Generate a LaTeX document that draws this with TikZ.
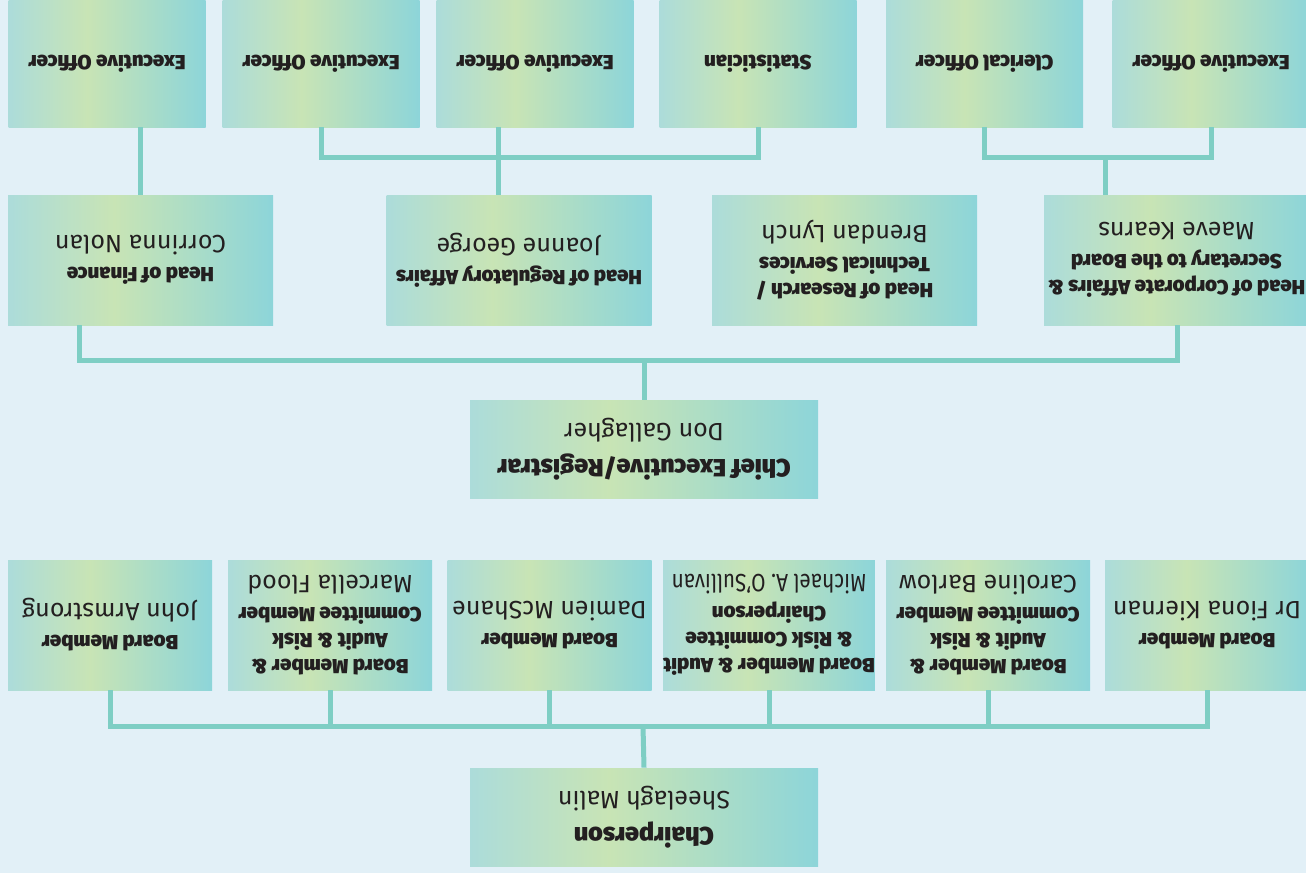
\documentclass[tikz,border=0pt]{standalone}
\usepackage{fontspec}
\usepackage{tikz}
\usetikzlibrary{calc}
\newfontfamily\rolefont{Fira Sans Black}
\newfontfamily\namefont{Fira Sans}
\definecolor{bgblue}{HTML}{E2F0F7}
\definecolor{linkteal}{HTML}{7ECEC4}
\definecolor{shadeA}{HTML}{ACDCDA}
\definecolor{shadeB}{HTML}{C8E4B5}
\definecolor{shadeC}{HTML}{8DD5D9}
\definecolor{inkdark}{HTML}{231F20}
\pgfdeclarehorizontalshading{orgshade}{100bp}{color(0bp)=(shadeA); color(25bp)=(shadeA); color(45bp)=(shadeB); color(75bp)=(shadeC); color(100bp)=(shadeC)}
\newcommand{\who}[1]{\\[3pt]{\namefont\fontsize{12.5}{15}\selectfont #1}}
\tikzset{
  orgbox/.style={rotate=180, shading=orgshade, inner sep=0pt, align=center,
    text=inkdark, font=\rolefont\fontsize{10.2}{13}\selectfont},
  topbox/.style={orgbox, minimum width=98.5pt, minimum height=63.5pt},
  headbox/.style={orgbox, minimum width=132.5pt, minimum height=65pt},
  boardbox/.style={orgbox, minimum width=102pt, minimum height=65pt},
  chiefbox/.style={orgbox, minimum width=174pt, minimum height=49pt,
    font=\rolefont\fontsize{12.5}{15}\selectfont},
  link/.style={draw=linkteal, line width=2.5pt}
}
\begin{document}
\begin{tikzpicture}[x=0.5pt,y=-0.5pt]
  \useasboundingbox (0,0) rectangle (1306,873);
  \fill[bgblue] (0,0) rectangle (1306,873);
  \node[topbox] (eoA) at (107,63.5) {Executive Officer};
  \node[topbox] (eoB) at (321,63.5) {Executive Officer};
  \node[topbox] (eoC) at (535,63.5) {Executive Officer};
  \node[topbox] (stat) at (758,63.5) {Statistician};
  \node[topbox] (cler) at (984.5,63.5) {Clerical Officer};
  \node[topbox] (eoD) at (1211,63.5) {Executive Officer};

  \node[headbox] (fin) at (140.5,260) {Head of Finance\who{Corrinna Nolan}};
  \node[headbox] (regaff) at (519,260) {Head of Regulatory Affairs\who{Joanne George}};
  \node[headbox] (research) at (844.5,260)
    {Head of Research /\\Technical Services\who{Brendan Lynch}};
  \node[headbox] (corp) at (1176.5,260)
    {Head of Corporate Affairs \&\\Secretary to the Board\who{Maeve Kearns}};

  \node[chiefbox] (ceo) at (644,449) {Chief Executive/Registrar\who{Don Gallagher}};

  \node[boardbox] (bmA) at (110,625) {Board Member\who{John Armstrong}};
  \node[boardbox] (bmB) at (330,625)
    {Board Member \&\\Audit \& Risk\\Committee Member\who{Marcella Flood}};
  \node[boardbox] (bmC) at (549.5,625) {Board Member\who{Damien McShane}};
  \node[boardbox] (bmD) at (769,625)
    {Board Member \& Audit\\\& Risk Committee\\Chairperson\who{\scalebox{0.83}[1]{Michael A. O’Sullivan}}};
  \node[boardbox] (bmE) at (988,625)
    {Board Member \&\\Audit \& Risk\\Committee Member\who{Caroline Barlow}};
  \node[boardbox] (bmF) at (1207,625) {Board Member\who{Dr Fiona Kiernan}};

  \node[chiefbox] (chair) at (644,817) {Chairperson\who{Sheelagh Malin}};

  \draw[link] (fin.south) -- (fin.south |- eoA.north);
  \draw[link] (eoB.north) -- ++(0,30) -| (stat.north);
  \draw[link] (eoC.north -| 498,0) -- (regaff.south -| 498,0);
  \draw[link] (cler.north) -- ++(0,30) -| (eoD.north);
  \draw[link] (corp.south -| 1105,0) -- ++(0,-38);
  \draw[link] (fin.north -| 79,0) -- ++(0,35) -| (corp.north -| 1177,0);
  \draw[link] (ceo.south) -- (ceo.south |- 0,360);
  \coordinate (board) at (643,726);
  \draw[link] (chair.south) -- (board);
  \draw[link] (bmA.north) |- (board) -| (bmF.north);
  \foreach \b in {bmB,bmC,bmD,bmE}
    \draw[link] (\b.north) -- (\b.north |- board);
\end{tikzpicture}
\end{document}
